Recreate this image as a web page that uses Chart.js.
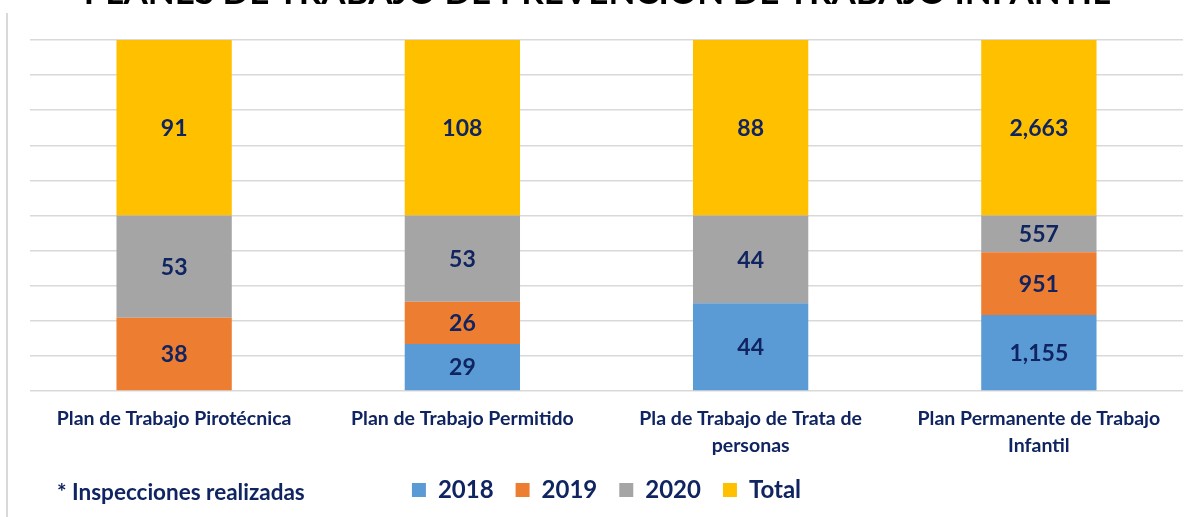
<!DOCTYPE html>
<html>
<head>
<meta charset="utf-8">
<script src="https://cdn.jsdelivr.net/npm/chart.js@4"></script>
<style>
  html, body { margin: 0; padding: 0; background: #fff; }
  #wrap { position: relative; width: 1186px; height: 517px; }
</style>
</head>
<body>
<div id="wrap"><canvas id="chartPlanes"></canvas></div>
<script>
// datos
const categories = [
    'Plan de Trabajo Pirotécnica',
    'Plan de Trabajo Permitido',
    ['Pla de Trabajo de Trata de', 'personas'],
    ['Plan Permanente de Trabajo', 'Infantil']
];
const seriesNames = ['2018', '2019', '2020', 'Total'];
const values2018 = [0, 29, 44, 1155];
const values2019 = [38, 26, 0, 951];
const values2020 = [53, 53, 44, 557];
const valuesTotal = [91, 108, 88, 2663];
const titleText = 'PLANES DE TRABAJO DE PREVENCIÓN DE TRABAJO INFANTIL';
const footnoteText = '* Inspecciones realizadas';

const navy = '#0f2460';
const fontFam = 'Lato, "Open Sans", sans-serif';
const colores = ['#5b9bd5', '#ed7d31', '#a5a5a5', '#ffc000'];
const rawSeries = [values2018, values2019, values2020, valuesTotal];

// 100% apilado: cada columna se normaliza con la suma de sus segmentos
const sumas = categories.map((_, i) => rawSeries.reduce((acc, s) => acc + s[i], 0));

const datasets = rawSeries.map((serie, k) => ({
    label: seriesNames[k],
    data: serie.map((v, i) => v / sumas[i] * 100),
    raw: serie,
    backgroundColor: colores[k],
    borderWidth: 0,
    barPercentage: 0.4,
    categoryPercentage: 1
}));

const etiquetasPlugin = {
    id: 'etiquetas',
    afterDatasetsDraw(chart) {
        const ctx = chart.ctx;
        ctx.save();
        ctx.font = 'bold 23px ' + fontFam;
        ctx.fillStyle = navy;
        ctx.textAlign = 'center';
        ctx.textBaseline = 'middle';
        chart.data.datasets.forEach((ds, k) => {
            const meta = chart.getDatasetMeta(k);
            meta.data.forEach((bar, i) => {
                const v = ds.raw[i];
                if (!v) return;
                const yMid = (bar.y + bar.base) / 2;
                ctx.fillText(v.toLocaleString('en-US'), bar.x, yMid + 1);
            });
        });
        ctx.restore();
    }
};

const decoracionPlugin = {
    id: 'decoracion',
    afterLayout(chart) {
        // margen extra para que la segunda linea de las etiquetas no se recorte
        const x = chart.scales.x;
        x.bottom = x.top + 80;
    },
    afterDraw(chart) {
        const ctx = chart.ctx;
        ctx.save();
        // borde izquierdo del cuadro
        ctx.strokeStyle = '#d9d9d9';
        ctx.lineWidth = 2;
        ctx.beginPath();
        ctx.moveTo(7, 13);
        ctx.lineTo(7, 517);
        ctx.stroke();
        // titulo cortado arriba
        ctx.fillStyle = '#000';
        ctx.font = 'bold 35px ' + fontFam;
        ctx.textAlign = 'center';
        ctx.textBaseline = 'alphabetic';
        ctx.fillText(titleText, 597, 4);
        // nota al pie
        ctx.fillStyle = navy;
        ctx.font = 'bold 22.5px ' + fontFam;
        ctx.textAlign = 'left';
        ctx.textBaseline = 'middle';
        ctx.fillText(footnoteText, 57, 493);
        ctx.restore();
    }
};

new Chart(document.getElementById('chartPlanes'), {
    type: 'bar',
    data: { labels: categories, datasets: datasets },
    options: {
        responsive: true,
        maintainAspectRatio: false,
        animation: false,
        layout: { padding: { top: 40, left: 30, right: 3, bottom: 5 } },
        scales: {
            x: {
                stacked: true,
                grid: { display: false, drawTicks: false },
                border: { display: false },
                ticks: {
                    color: navy,
                    font: { family: fontFam, size: 19.5, weight: 'bold', lineHeight: 1.4 },
                    padding: 14,
                    maxRotation: 0,
                    autoSkip: false
                },
                afterFit(scale) { scale.height = 65; }
            },
            y: {
                stacked: true,
                min: 0,
                max: 100,
                ticks: { display: false, stepSize: 10 },
                grid: { color: '#d9d9d9', lineWidth: 1.5, drawTicks: false },
                border: { display: false }
            }
        },
        plugins: {
            legend: {
                position: 'bottom',
                labels: {
                    color: navy,
                    font: { family: fontFam, size: 24, weight: 'bold' },
                    boxWidth: 14,
                    boxHeight: 14,
                    padding: 22
                }
            },
            tooltip: { enabled: false }
        }
    },
    plugins: [etiquetasPlugin, decoracionPlugin]
});
</script>
</body>
</html>
